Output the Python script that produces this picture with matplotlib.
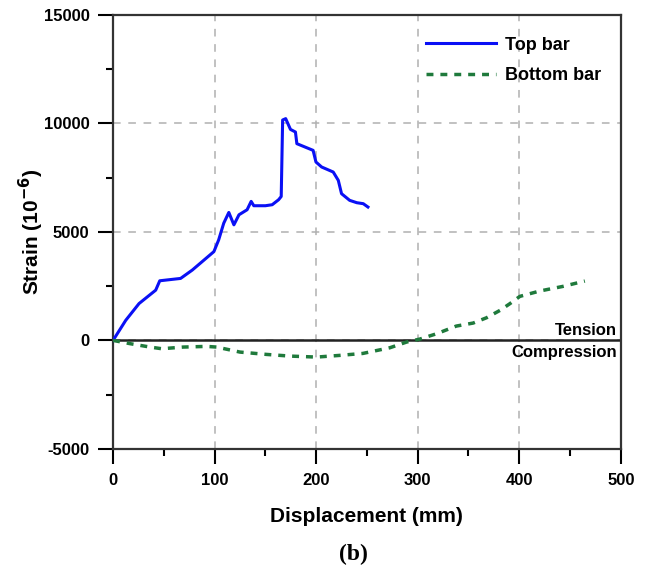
import matplotlib.pyplot as plt
from matplotlib.ticker import MultipleLocator

# Datos
top_x = [0, 12.5, 25.6, 42, 46, 66.5, 78, 99.3, 104, 109, 114, 119, 124, 132, 136,
         138.6, 150, 156.7, 163, 165.6, 167, 170, 174.7, 179.6, 181, 189, 197, 199.8,
         205.4, 216.8, 221.8, 225, 233, 240, 246.4, 251]
top_y = [0, 926, 1698, 2315, 2747, 2855, 3240, 4090, 4630, 5400, 5895, 5324, 5787, 6019, 6404,
         6204, 6204, 6250, 6480, 6630, 10154, 10216, 9720, 9600, 9063, 8909, 8755, 8218,
         7988, 7757, 7373, 6759, 6452, 6344, 6298, 6144]

bot_x = [0, 16.7, 36.4, 48, 69, 92, 102, 125, 151, 174, 200.5, 223, 246, 272.6, 289,
         302, 318.6, 338, 354.6, 367.8, 381, 390.7, 400.6, 420, 443, 464.6]
bot_y = [0, -150, -307, -384, -307, -276, -307, -538, -645, -722, -768, -691, -600, -338, -77,
         60, 307, 660, 799, 1044, 1382, 1690, 2028, 2273, 2488, 2734]

plt.rcParams['font.family'] = ['Liberation Sans', 'DejaVu Sans']
plt.rcParams['font.weight'] = 'bold'
plt.rcParams['axes.unicode_minus'] = False

fig = plt.figure(figsize=(6.46, 5.69), dpi=100)
ax = fig.add_axes([0.175, 0.211, 0.786, 0.763])

ax.plot(top_x, top_y, color='#0a10f5', lw=2.2, label='Top bar', zorder=3)
ax.plot(bot_x, bot_y, color='#1f7a3c', lw=2.5, ls=(0, (2, 2)), label='Bottom bar', zorder=3)
ax.axhline(0, color='#222222', lw=1.8, zorder=2.5)

ax.set_xlim(0, 500)
ax.set_ylim(-5000, 15000)
ax.xaxis.set_major_locator(MultipleLocator(100))
ax.xaxis.set_minor_locator(MultipleLocator(50))
ax.yaxis.set_major_locator(MultipleLocator(5000))
ax.yaxis.set_minor_locator(MultipleLocator(2500))
ax.tick_params(which='major', length=11, width=1.5, labelsize=12, pad=6)
ax.tick_params(which='minor', length=5, width=1.5)
for s in ax.spines.values():
    s.set_linewidth(1.6)
    s.set_color('#333333')

ax.grid(True, which='major', ls=(0, (5, 5)), color='#b0b0b0', lw=1.1, zorder=1)
ax.set_axisbelow(True)

ax.set_xlabel('Displacement (mm)', fontsize=15, fontweight='bold', labelpad=14)
ax.set_ylabel('Strain (10$^{-6}$)', fontsize=15, fontweight='bold', labelpad=-2)

ax.text(496, 120, 'Tension', ha='right', va='bottom', fontsize=12)
ax.text(496, -200, 'Compression', ha='right', va='top', fontsize=12)

ax.legend(loc='upper left', frameon=False, fontsize=13, handlelength=3.9,
          handletextpad=0.5, labelspacing=0.75, borderpad=0, borderaxespad=0,
          bbox_to_anchor=(0.616, 0.95))

fig.text(0.547, 0.025, '(b)', ha='center', va='center', fontsize=17,
         fontweight='bold', family='Liberation Serif')

plt.savefig('out.png')
